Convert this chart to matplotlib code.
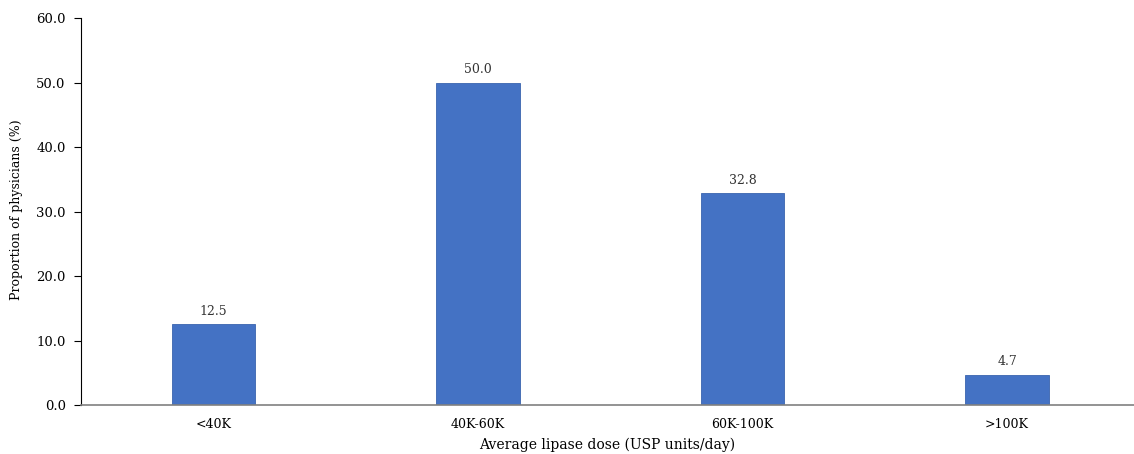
import matplotlib
matplotlib.use("Agg")
import matplotlib.pyplot as plt

categories = ["<40K", "40K-60K", "60K-100K", ">100K"]
values = [12.5, 50.0, 32.8, 4.7]
y_ticks = [0, 10, 20, 30, 40, 50, 60]

plt.rcParams["font.family"] = ["DejaVu Serif"]

fig = plt.figure(figsize=(11.34, 4.54), dpi=100)
ax = fig.add_axes([81 / 1134, 1 - 405 / 454, 1 - 81 / 1134, (405 - 18) / 454])

x = range(len(categories))
bars = ax.bar(x, values, width=0.315, color="#4472C4", edgecolor="#3a64ae", linewidth=0.6)
for b, v in zip(bars, values):
    ax.text(b.get_x() + b.get_width() / 2, v + 1.0, f"{v:.1f}",
            ha="center", va="bottom", fontsize=9, color="#333333")

ax.set_xlim(-0.5, 3.48)
ax.set_ylim(0, 60)
ax.set_yticks(y_ticks)
ax.set_yticklabels([f"{t:.1f}" for t in y_ticks], fontsize=9.5)
ax.set_xticks(list(x))
ax.set_xticklabels(categories, fontsize=9)
ax.tick_params(axis="x", length=0, pad=9)
ax.tick_params(axis="y", length=5, direction="out", pad=6)

for s in ["top", "right"]:
    ax.spines[s].set_visible(False)
ax.spines["left"].set_color("black")
ax.spines["bottom"].set_color("#808080")
ax.spines["bottom"].set_linewidth(1.2)

ax.set_xlabel("Average lipase dose (USP units/day)", fontsize=10, labelpad=5)
ax.set_ylabel("Proportion of physicians (%)", fontsize=9)
ax.yaxis.set_label_coords(-0.055, 0.505)

fig.savefig("out.png", dpi=100)
